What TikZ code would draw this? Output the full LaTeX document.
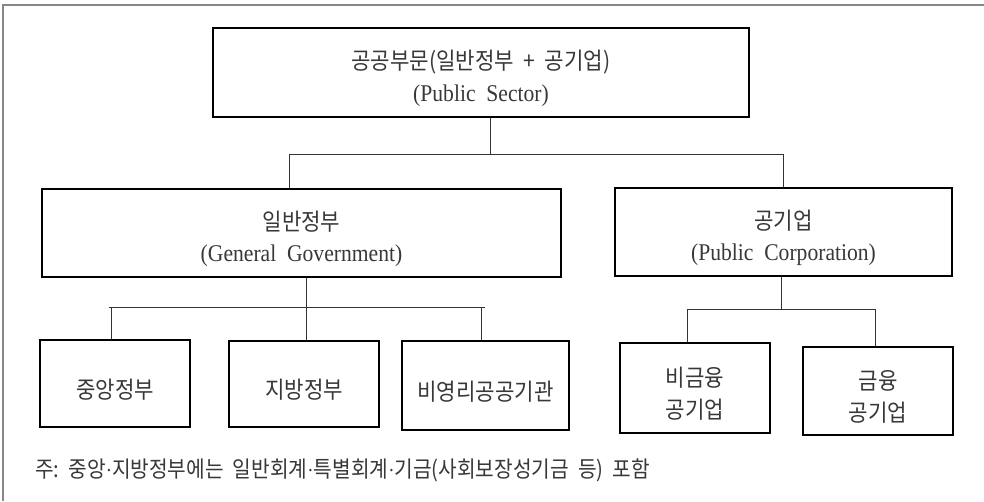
\documentclass[tikz,border=0pt]{standalone}
\usepackage{fontspec}
\setmainfont{Liberation Serif}
\newfontfamily\kr[FakeStretch=0.9]{Noto Sans CJK KR}
\newfontfamily\en[FakeStretch=0.9]{Liberation Serif}
\usetikzlibrary{calc}

\begin{document}
\begin{tikzpicture}[x=1pt,y=-1pt,
  box/.style={draw=black, line width=1.2pt, fill=white, inner sep=0pt,
    align=center, text=black!78, font=\kr\fontsize{23.5}{31.5}\selectfont},
  link/.style={draw=black!80, line width=0.9pt}]
\newcommand\entext[1]{{\en\fontsize{24}{31.5}\selectfont #1}}
\newcommand\topgap{\rule{0pt}{31pt}}
\newcommand\mdot{{\en\fontsize{21}{22}\selectfont ·}}

% page and frame
\fill[white] (0,0) rectangle (984,501);
\useasboundingbox (0,0) rectangle (984,501);
\draw[black!47, line width=2pt] (3,501) -- (3,5) -- (984,5);

% boxes
\node[box, minimum width=536pt, minimum height=89pt] (ps) at (481,72.5)
  {\topgap 공공부문(일반정부~~+~~공기업)\\\entext{(Public~~Sector)}};
\node[box, minimum width=519pt, minimum height=88pt] (gg) at (301.5,233)
  {\topgap 일반정부\\\entext{(General~~Government)}};
\node[box, minimum width=337pt, minimum height=88pt] (pc) at (783.5,232)
  {\topgap 공기업\\\entext{(Public~~Corporation)}};

\node[box, minimum width=150pt, minimum height=87pt] (cg) at (115,383.5) {\topgap 중앙정부};
\node[box, minimum width=150pt, minimum height=86pt] (lg) at (304,384) {\topgap 지방정부};
\node[box, minimum width=167pt, minimum height=89pt] (np) at (485.5,385.5) {\topgap 비영리공공기관};
\node[box, minimum width=150pt, minimum height=90pt] (nf) at (695,388) {\topgap 비금융\\공기업};
\node[box, minimum width=150pt, minimum height=88pt] (fc) at (878,391) {\topgap 금융\\공기업};

% first level
\coordinate (t1) at (490,154);
\coordinate (l1) at (289,154);
\coordinate (r1) at (783,154);
\draw[link] (ps.south -| t1) -- (t1);
\draw[link] (l1) -- (r1);
\draw[link] (l1) -- (gg.north -| l1);
\draw[link] (r1) -- (pc.north -| r1);

% general government
\coordinate (t2) at (306,307);
\coordinate (l2) at (109,307);
\coordinate (r2) at (485,307);
\coordinate (d21) at (111,307);
\coordinate (d23) at (481,307);
\draw[link] (gg.south -| t2) -- (t2);
\draw[link] (l2) -- (r2);
\draw[link] (d21) -- (cg.north -| d21);
\draw[link] (t2) -- (lg.north -| t2);
\draw[link] (d23) -- (np.north -| d23);

% public corporations
\coordinate (t3) at (781,309);
\coordinate (l3) at (687,309);
\coordinate (r3) at (875,309);
\draw[link] (pc.south -| t3) -- (t3);
\draw[link] (l3) -- (r3);
\draw[link] (l3) -- (nf.north -| l3);
\draw[link] (r3) -- (fc.north -| r3);

% note
\node[anchor=west, inner sep=0pt, text=black!78, font=\kr\fontsize{22.5}{24}\selectfont] (note) at (35,470)
  {주:~~중앙\mdot 지방정부에는~~일반회계\mdot 특별회계\mdot 기금(사회보장성기금~~등)~~포함};
\end{tikzpicture}
\end{document}
